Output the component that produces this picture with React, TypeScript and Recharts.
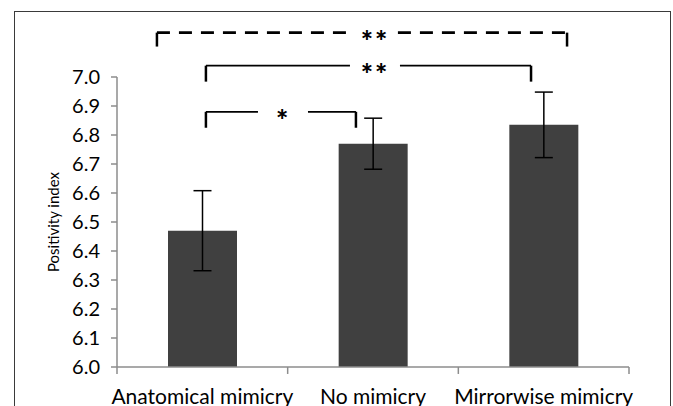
import React from "react";
import {
    BarChart, Bar, XAxis, YAxis, ErrorBar, ReferenceLine, ReferenceDot,
} from "recharts";

const conditions = ["Anatomical mimicry", "No mimicry", "Mirrorwise mimicry"];
const slots = [0.5, 1.5, 2.5];
const positivity = [6.47, 6.77, 6.835];
const errors = [0.138, 0.088, 0.113];
const yTicks = [6.0, 6.1, 6.2, 6.3, 6.4, 6.5, 6.6, 6.7, 6.8, 6.9, 7.0];

// significance brackets, in units of the hidden 0..3 category index axis
const brackets = [
    { from: 0.234, to: 2.637, y: 7.153, foot: 7.105, gap: [1.365, 1.646], at: 1.512, text: "**", dashed: true },
    { from: 0.521, to: 2.426, y: 7.039, foot: 6.984, gap: [1.365, 1.658], at: 1.512, text: "**", dashed: false },
    { from: 0.521, to: 1.4, y: 6.88, foot: 6.825, gap: [0.826, 1.119], at: 0.973, text: "*", dashed: false },
];
const bandEdges = [0, 1, 2, 3];

const data = conditions.map((name, i) => ({
    name,
    slot: slots[i],
    value: positivity[i],
    err: errors[i],
}));

const FONT = "Lato, 'DejaVu Sans', sans-serif";

const App: React.FC = () => {
    return (
        <div style={{ position: "absolute", left: 0, top: 0, width: 673, height: 406, background: "#fff", overflow: "hidden" }}>
            <div
                style={{
                    position: "absolute", left: 14, top: 11, width: 657, height: 420,
                    border: "1.5px solid #3a3a3a", boxSizing: "border-box",
                }}
            />
            <div style={{ position: "absolute", left: 0, top: 0 }}>
                <BarChart
                    width={673}
                    height={406}
                    data={data}
                    margin={{ top: 77, right: 44, bottom: 9, left: 57 }}
                    style={{ fontFamily: FONT }}
                >
                    <XAxis
                        xAxisId="cat"
                        dataKey="name"
                        height={30}
                        axisLine={{ stroke: "#8c8c8c", strokeWidth: 1.5 }}
                        tickLine={false}
                        tickMargin={16}
                        tick={{ fontSize: 21, fill: "#000", fontFamily: FONT }}
                        interval={0}
                    />
                    <XAxis
                        xAxisId="num"
                        dataKey="slot"
                        type="number"
                        domain={[0, 3]}
                        ticks={bandEdges}
                        allowDataOverflow
                        hide
                    />
                    <YAxis
                        domain={[6, 7]}
                        ticks={yTicks}
                        width={60}
                        interval={0}
                        tickFormatter={(v: number) => v.toFixed(1)}
                        axisLine={{ stroke: "#8c8c8c", strokeWidth: 1.5 }}
                        tickLine={{ stroke: "#8c8c8c", strokeWidth: 1.5 }}
                        tickSize={6}
                        tickMargin={11}
                        tick={{ fontSize: 20, fill: "#000", fontFamily: FONT }}
                        label={{
                            value: "Positivity index", angle: -90, position: "center", dx: -33,
                            style: { fontSize: 15, fill: "#000", fontFamily: FONT },
                        }}
                    />
                    <Bar xAxisId="cat" dataKey="value" fill="#404040" barSize={69} isAnimationActive={false}>
                        <ErrorBar dataKey="err" width={9} stroke="#000" strokeWidth={1.5} />
                    </Bar>
                    {bandEdges.map((e) => (
                        <ReferenceLine
                            key={"edge" + e}
                            xAxisId="num"
                            segment={[{ x: e, y: 6 }, { x: e, y: 5.976 }]}
                            stroke="#8c8c8c"
                            strokeWidth={1.5}
                            ifOverflow="visible"
                        />
                    ))}
                    {brackets.map((b, i) => {
                        const w = b.dashed ? 2.8 : 1.8;
                        const dash = b.dashed ? "13 9" : undefined;
                        return (
                            <React.Fragment key={"br" + i}>
                                <ReferenceLine
                                    xAxisId="num"
                                    segment={[{ x: b.from, y: b.foot }, { x: b.from, y: b.y }]}
                                    stroke="#000" strokeWidth={2.5} ifOverflow="visible"
                                />
                                <ReferenceLine
                                    xAxisId="num"
                                    segment={[{ x: b.from, y: b.y }, { x: b.gap[0], y: b.y }]}
                                    stroke="#000" strokeWidth={w} strokeDasharray={dash} ifOverflow="visible"
                                />
                                <ReferenceLine
                                    xAxisId="num"
                                    segment={[{ x: b.gap[1], y: b.y }, { x: b.to, y: b.y }]}
                                    stroke="#000" strokeWidth={w} strokeDasharray={dash} ifOverflow="visible"
                                />
                                <ReferenceLine
                                    xAxisId="num"
                                    segment={[{ x: b.to, y: b.y }, { x: b.to, y: b.foot }]}
                                    stroke="#000" strokeWidth={2.5} ifOverflow="visible"
                                />
                                <ReferenceDot
                                    xAxisId="num"
                                    x={b.at}
                                    y={b.y}
                                    r={0}
                                    fill="none"
                                    stroke="none"
                                    ifOverflow="visible"
                                    label={{
                                        value: b.text, position: "center", dy: 8,
                                        style: { fontSize: 29, fontWeight: 900, fill: "#000", fontFamily: FONT, letterSpacing: 2 },
                                    }}
                                />
                            </React.Fragment>
                        );
                    })}
                </BarChart>
            </div>
        </div>
    );
};

export default App;
